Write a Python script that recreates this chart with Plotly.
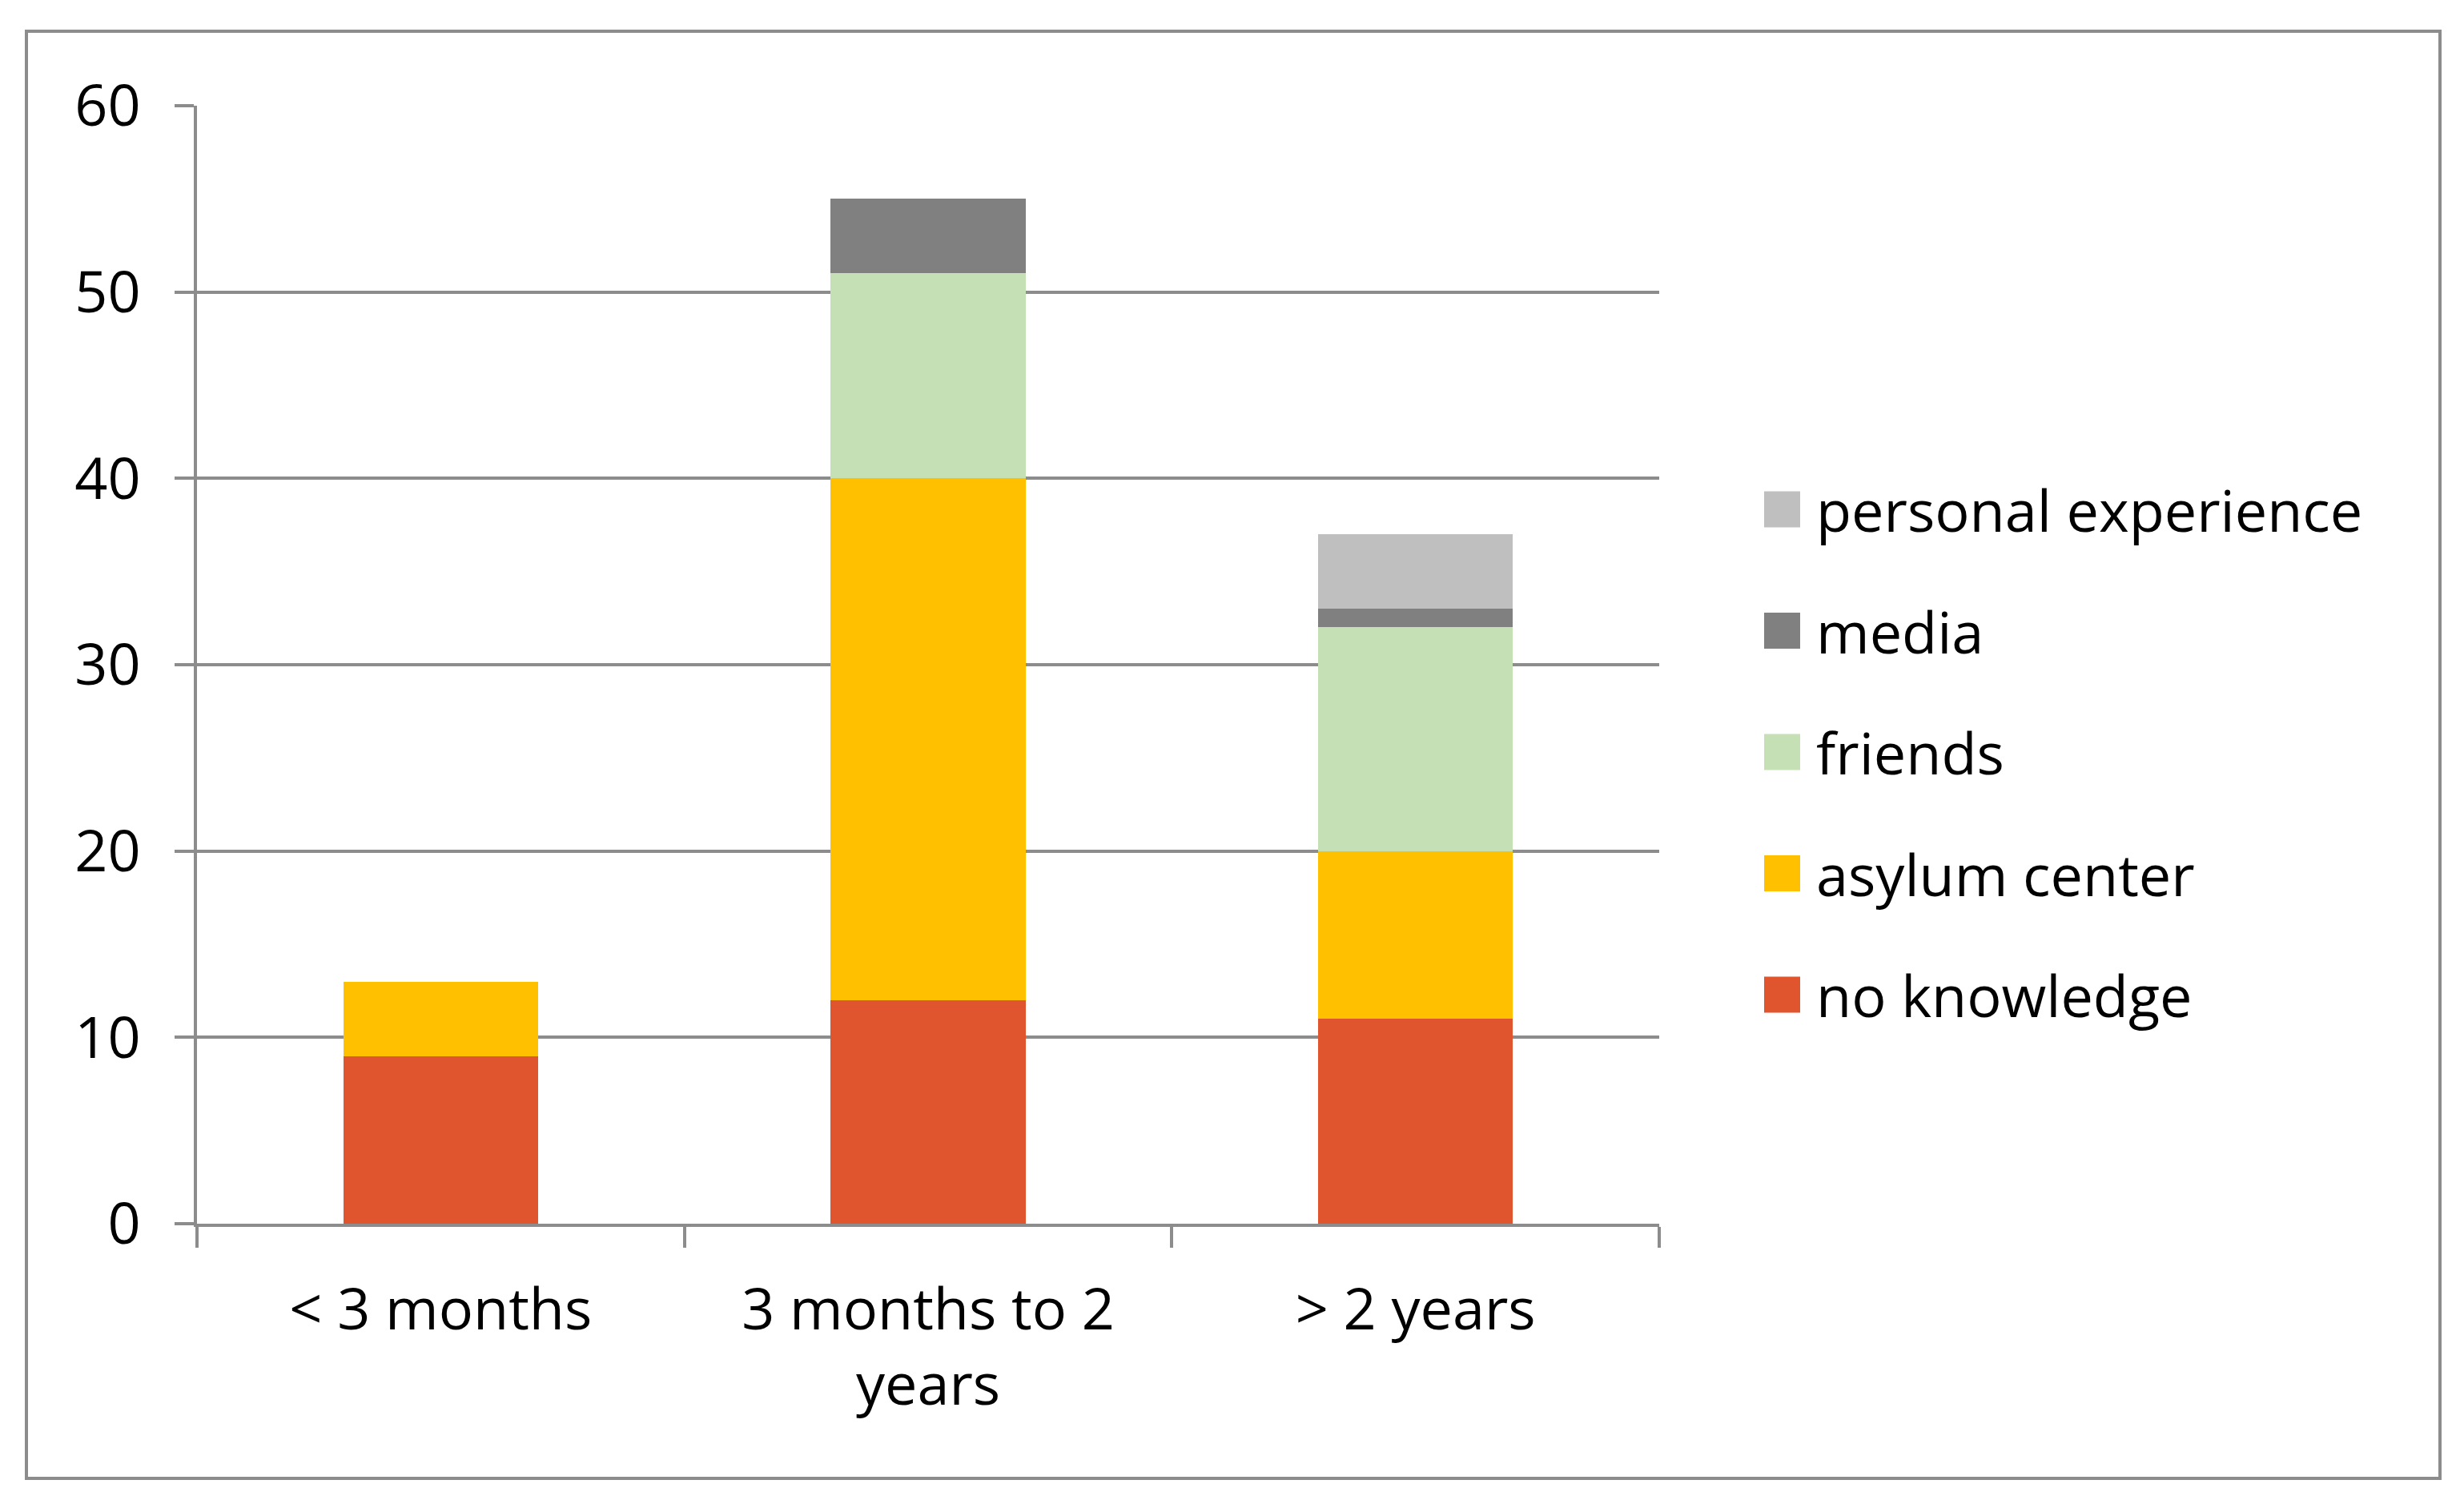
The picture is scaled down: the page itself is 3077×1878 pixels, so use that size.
import plotly.graph_objects as go

categories = ["< 3 months", "3 months to 2<br>years", "> 2 years"]
series_names = ["no knowledge", "asylum center", "friends", "media", "personal experience"]
no_knowledge = [9, 12, 11]
asylum_center = [4, 28, 9]
friends = [0, 11, 12]
media = [0, 4, 1]
personal_experience = [0, 0, 4]
y_ticks = [0, 10, 20, 30, 40, 50, 60]

series_values = [no_knowledge, asylum_center, friends, media, personal_experience]
colors = ["#E0542E", "#FFC000", "#C5E0B4", "#808080", "#BFBFBF"]

W, H = 3077, 1878
L, R, T, B = 246, 2072, 132, 1528
FONT = "Open Sans"
FS = 72
GRID = "#8C8C8C"

fig = go.Figure()
for name, vals, col in zip(series_names, series_values, colors):
    fig.add_trace(go.Bar(
        x=categories, y=vals, name=name, showlegend=False,
        marker=dict(color=col, line=dict(width=0)),
    ))

pw, ph = R - L, B - T

def px2x(px):
    return (px - L) / pw

def px2y(py):
    return (B - py) / ph

shapes = []
annotations = []
# outer border
shapes.append(dict(type="rect", xref="paper", yref="paper",
                   x0=px2x(33), x1=px2x(3047), y0=px2y(1846), y1=px2y(39),
                   line=dict(color=GRID, width=4), fillcolor="rgba(0,0,0,0)", layer="below"))
# manual legend (top to bottom: reversed series order)
leg_y0 = 636
leg_dy = 151.5
for i, (name, col) in enumerate(zip(series_names[::-1], colors[::-1])):
    cy = leg_y0 + i * leg_dy
    shapes.append(dict(type="rect", xref="paper", yref="paper",
                       x0=px2x(2203), x1=px2x(2248), y0=px2y(cy + 22.5), y1=px2y(cy - 22.5),
                       line=dict(width=0), fillcolor=col))
    annotations.append(dict(xref="paper", yref="paper", x=px2x(2266), y=px2y(cy),
                            xanchor="left", yanchor="middle", text=name, showarrow=False,
                            font=dict(family=FONT, size=FS, color="#000000")))

fig.update_layout(
    width=W, height=H,
    margin=dict(l=L, r=W - R, t=T, b=H - B, pad=0),
    barmode="stack", bargap=0.6,
    paper_bgcolor="white", plot_bgcolor="white",
    font=dict(family=FONT, size=FS, color="#000000"),
    showlegend=False,
    shapes=shapes, annotations=annotations,
)
fig.update_yaxes(
    range=[0, 60], tickvals=y_ticks, showgrid=True, gridcolor=GRID, gridwidth=4,
    zeroline=False, showline=True, linecolor=GRID, linewidth=4,
    ticks="outside", ticklen=24, tickwidth=4, tickcolor=GRID,
    ticklabelstandoff=28, tickfont=dict(family=FONT, size=FS, color="#000000"),
)
fig.update_xaxes(
    showline=True, linecolor=GRID, linewidth=4,
    ticks="outside", tickson="boundaries", ticklen=26, tickwidth=4, tickcolor=GRID,
    ticklabelstandoff=42, tickfont=dict(family=FONT, size=FS, color="#000000"),
)

fig.write_html("out.html", config={"displayModeBar": False},
               post_script="document.body.style.margin='0';")
